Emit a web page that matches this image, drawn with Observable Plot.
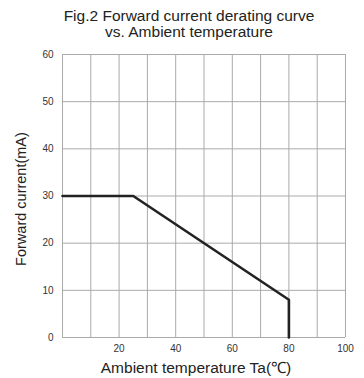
<!DOCTYPE html>
<html>
<head>
<meta charset="utf-8">
<script src="https://cdn.jsdelivr.net/npm/d3@7"></script>
<script src="https://cdn.jsdelivr.net/npm/@observablehq/plot@0.6"></script>
<style>
  body { margin: 0; background: #fff; font-family: "Liberation Sans", Arial, sans-serif; }
  #wrap { width: 364px; height: 378px; position: relative; overflow: hidden; }
  #title { height: 44px; box-sizing: border-box; padding-top: 8px; padding-left: 14px; text-align: center;
           font-size: 15.5px; line-height: 16px; color: #222; white-space: nowrap; }
</style>
</head>
<body>
<div id="wrap">
  <div id="title">Fig.2 Forward current derating curve<br>vs. Ambient temperature</div>
  <div id="chart"></div>
</div>
<script>
const temperature = [0, 25, 80, 80];
const current = [30, 30, 8, 0];
const xTicks = [20, 40, 60, 80, 100];
const yTicks = [0, 10, 20, 30, 40, 50, 60];
const xGrid = [0, 10, 20, 30, 40, 50, 60, 70, 80, 90, 100];

const data = temperature.map((t, i) => ({t, c: current[i]}));

const plot = Plot.plot({
  width: 364,
  height: 334,
  marginTop: 10,
  marginBottom: 41,
  marginLeft: 62,
  marginRight: 19,
  style: { fontFamily: "Liberation Sans, Arial, sans-serif", fontSize: "10px", color: "#333", background: "transparent" },
  x: { domain: [0, 100] },
  y: { domain: [0, 60] },
  marks: [
    Plot.gridX(xGrid, { stroke: "#aaa", strokeOpacity: 1, strokeWidth: 1 }),
    Plot.gridY(yTicks, { stroke: "#aaa", strokeOpacity: 1, strokeWidth: 1 }),
    Plot.axisX(xTicks, { label: null, tickSize: 0, tickPadding: 7, fill: "#333" }),
    Plot.axisY(yTicks, { label: null, tickSize: 0, tickPadding: 9, fill: "#333" }),
    Plot.line(data, { x: "t", y: "c", stroke: "#222", strokeWidth: 2.6, strokeLinejoin: "miter" }),
    Plot.text(["Ambient temperature Ta(\u2103)"], { frameAnchor: "bottom", dy: 35, dx: -8, fontSize: 15.5, fill: "#222" }),
    Plot.text(["Forward current(mA)"], { frameAnchor: "left", textAnchor: "middle", rotate: -90, dx: -41, dy: 3, fontSize: 14.5, fill: "#222" })
  ]
});
document.getElementById("chart").appendChild(plot);
</script>
</body>
</html>
